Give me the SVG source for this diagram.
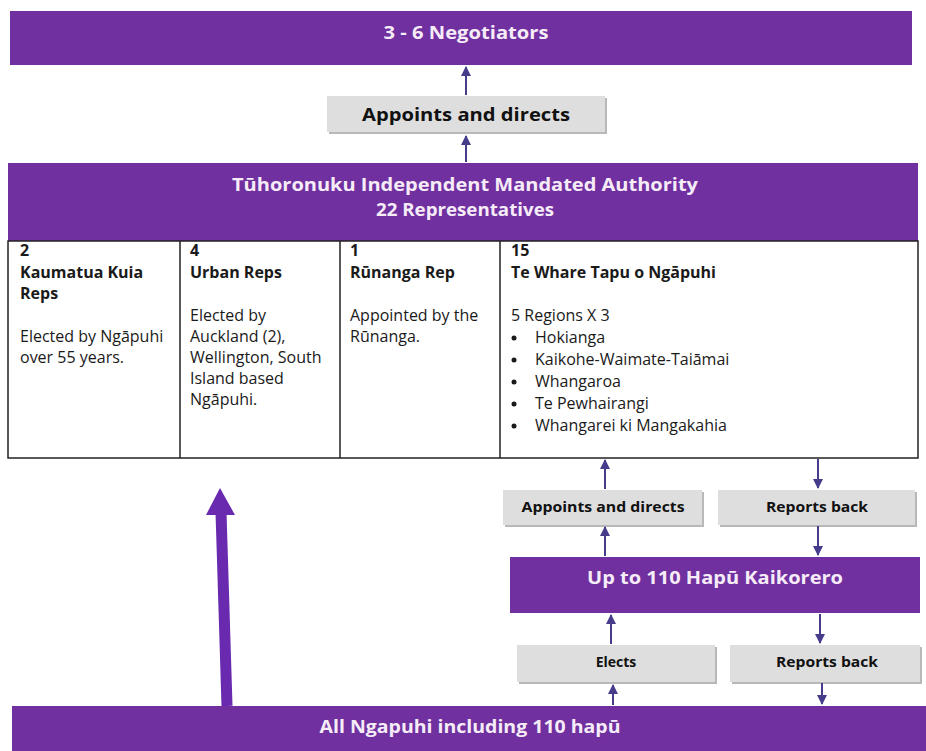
<svg xmlns="http://www.w3.org/2000/svg" width="926" height="751" viewBox="0 0 926 751">
<defs>
<style>
.pur{fill:#7030a0}
.gray{fill:#dedede}
.shadow{fill:#b8b8b8}
.wt{fill:#f6ecf8;font-family:"Open Sans","Liberation Sans",Arial,sans-serif;font-weight:bold;text-anchor:middle}
.bt{fill:#111;font-family:"Open Sans","Liberation Sans",Arial,sans-serif;font-weight:bold;text-anchor:middle}
.tt{fill:#1a1a1a;font-family:"Open Sans","Liberation Sans",Arial,sans-serif;font-size:16px}
.tb{font-weight:bold}
.grid{stroke:#222;stroke-width:1.5;fill:none}
.con{stroke:#463c8c;stroke-width:2;fill:none}
</style>
<marker id="ah" viewBox="0 0 10 10" refX="9" refY="5" markerWidth="5" markerHeight="5" orient="auto">
<path d="M0,0 L10,5 L0,10 z" fill="#463c8c"/>
</marker>
</defs>
<rect width="926" height="751" fill="#ffffff"/>

<g id="negotiators">
<rect x="10" y="11" width="902" height="54" class="pur"/>
<text x="466" y="39" class="wt" font-size="18" textLength="165" lengthAdjust="spacingAndGlyphs">3 - 6 Negotiators</text>
</g>

<g id="appoints-top">
<rect x="329" y="98" width="278" height="36" class="shadow"/>
<rect x="327" y="96" width="278" height="36" class="gray"/>
<text x="466" y="121" class="bt" font-size="17" textLength="208" lengthAdjust="spacingAndGlyphs">Appoints and directs</text>
</g>

<g id="authority">
<rect x="8" y="163" width="910" height="78" class="pur"/>
<text x="465" y="191" class="wt" font-size="17" textLength="466" lengthAdjust="spacingAndGlyphs">Tūhoronuku Independent Mandated Authority</text>
<text x="465" y="216" class="wt" font-size="17" textLength="178" lengthAdjust="spacingAndGlyphs">22 Representatives</text>
<rect x="8" y="241" width="910" height="217" fill="#fff" class="grid"/>
<line x1="180" y1="241" x2="180" y2="458" class="grid"/>
<line x1="340" y1="241" x2="340" y2="458" class="grid"/>
<line x1="500" y1="241" x2="500" y2="458" class="grid"/>
</g>

<g id="kaumatua">
<text class="tt tb" x="20" y="256">2</text>
<text class="tt tb" x="20" y="278">Kaumatua Kuia</text>
<text class="tt tb" x="20" y="299">Reps</text>
<text class="tt" x="20" y="342">Elected by Ngāpuhi</text>
<text class="tt" x="20" y="363">over 55 years.</text>
</g>

<g id="urban">
<text class="tt tb" x="190" y="256">4</text>
<text class="tt tb" x="190" y="278">Urban Reps</text>
<text class="tt" x="190" y="321">Elected by</text>
<text class="tt" x="190" y="342">Auckland (2),</text>
<text class="tt" x="190" y="363">Wellington, South</text>
<text class="tt" x="190" y="384">Island based</text>
<text class="tt" x="190" y="405">Ngāpuhi.</text>
</g>

<g id="runanga">
<text class="tt tb" x="350" y="256">1</text>
<text class="tt tb" x="350" y="278">Rūnanga Rep</text>
<text class="tt" x="350" y="321">Appointed by the</text>
<text class="tt" x="350" y="342">Rūnanga.</text>
</g>

<g id="whare-tapu">
<text class="tt tb" x="511" y="256">15</text>
<text class="tt tb" x="511" y="278">Te Whare Tapu o Ngāpuhi</text>
<text class="tt" x="511" y="321">5 Regions X 3</text>
<circle cx="514" cy="338" r="2.5" fill="#1a1a1a"/>
<text class="tt" x="535" y="343">Hokianga</text>
<circle cx="514" cy="360" r="2.5" fill="#1a1a1a"/>
<text class="tt" x="535" y="365">Kaikohe-Waimate-Taiāmai</text>
<circle cx="514" cy="382" r="2.5" fill="#1a1a1a"/>
<text class="tt" x="535" y="387">Whangaroa</text>
<circle cx="514" cy="404" r="2.5" fill="#1a1a1a"/>
<text class="tt" x="535" y="409">Te Pewhairangi</text>
<circle cx="514" cy="426" r="2.5" fill="#1a1a1a"/>
<text class="tt" x="535" y="431">Whangarei ki Mangakahia</text>
</g>

<g id="appoints-right">
<rect x="505" y="492" width="199" height="35" class="shadow"/>
<rect x="503" y="490" width="199" height="35" class="gray"/>
<text x="603" y="512" class="bt" font-size="14" textLength="163" lengthAdjust="spacingAndGlyphs">Appoints and directs</text>
</g>

<g id="reports-back-1">
<rect x="720" y="492" width="197" height="35" class="shadow"/>
<rect x="718" y="490" width="197" height="35" class="gray"/>
<text x="817" y="512" class="bt" font-size="14" textLength="102" lengthAdjust="spacingAndGlyphs">Reports back</text>
</g>

<g id="hapu-kaikorero">
<rect x="510" y="557" width="410" height="56" class="pur"/>
<text x="715" y="584" class="wt" font-size="18" textLength="256" lengthAdjust="spacingAndGlyphs">Up to 110 Hapū Kaikorero</text>
</g>

<g id="elects">
<rect x="519" y="647" width="198" height="37" class="shadow"/>
<rect x="517" y="645" width="198" height="37" class="gray"/>
<text x="616" y="667" class="bt" font-size="14">Elects</text>
</g>

<g id="reports-back-2">
<rect x="732" y="647" width="190" height="37" class="shadow"/>
<rect x="730" y="645" width="190" height="37" class="gray"/>
<text x="827" y="667" class="bt" font-size="14" textLength="102" lengthAdjust="spacingAndGlyphs">Reports back</text>
</g>

<g id="all-ngapuhi">
<rect x="12" y="706" width="914" height="45" class="pur"/>
<text x="470" y="733" class="wt" font-size="18" textLength="301" lengthAdjust="spacingAndGlyphs">All Ngapuhi including 110 hapū</text>
</g>

<g id="connectors">
<line x1="466" y1="95" x2="466" y2="67" class="con" marker-end="url(#ah)"/>
<line x1="466" y1="162" x2="466" y2="136" class="con" marker-end="url(#ah)"/>
<line x1="605" y1="489" x2="605" y2="460" class="con" marker-end="url(#ah)"/>
<line x1="818" y1="459" x2="818" y2="488" class="con" marker-end="url(#ah)"/>
<line x1="605" y1="556" x2="605" y2="527" class="con" marker-end="url(#ah)"/>
<line x1="818" y1="526" x2="818" y2="555" class="con" marker-end="url(#ah)"/>
<line x1="611" y1="644" x2="611" y2="615" class="con" marker-end="url(#ah)"/>
<line x1="820" y1="614" x2="820" y2="643" class="con" marker-end="url(#ah)"/>
<line x1="613" y1="705" x2="613" y2="685" class="con" marker-end="url(#ah)"/>
<line x1="822" y1="683" x2="822" y2="704" class="con" marker-end="url(#ah)"/>
<path d="M221,512 L227,706" stroke="#6a2ab0" stroke-width="11" fill="none"/>
<path d="M220,488 L235,515 L206,515 z" fill="#6a2ab0"/>
</g>
</svg>
